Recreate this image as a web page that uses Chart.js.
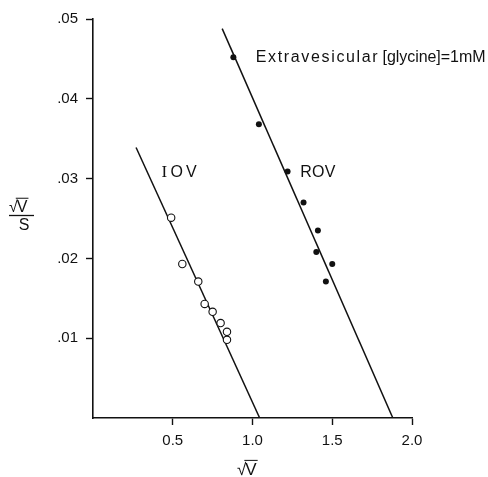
<!DOCTYPE html>
<html>
<head>
<meta charset="utf-8">
<script src="https://cdn.jsdelivr.net/npm/chart.js@4.4.1/dist/chart.umd.min.js"></script>
<style>
  html, body { margin: 0; padding: 0; background: #fff; }
  #wrap { width: 488px; height: 477px; position: relative; }
</style>
</head>
<body>
<div id="wrap"><canvas id="chart"></canvas></div>
<script>
// sqrt(V)/S vs sqrt(V), inside-out (IOV) and right-side-out (ROV) vesicles
const IOV_X = [0.49, 0.56, 0.66, 0.70, 0.75, 0.80, 0.84, 0.84];
const IOV_Y = [0.0251, 0.0193, 0.0171, 0.0143, 0.0133, 0.0119, 0.0108, 0.0098];
const ROV_X = [0.88, 1.04, 1.22, 1.32, 1.41, 1.40, 1.50, 1.46];
const ROV_Y = [0.0452, 0.0368, 0.0309, 0.0270, 0.0235, 0.0208, 0.0193, 0.0171];

// fitted lines, end points
const IOV_FIT_X = [0.27, 1.045];
const IOV_FIT_Y = [0.0339, 0];
const ROV_FIT_X = [0.81, 1.88];
const ROV_FIT_Y = [0.0488, 0];

const X_TICKS = [0.5, 1.0, 1.5, 2.0];
const Y_TICKS = [0.01, 0.02, 0.03, 0.04, 0.05];

const pts = (xs, ys) => xs.map((x, i) => ({ x: x, y: ys[i] }));

const INK = '#111';
const FONT = "'Liberation Sans', Arial, sans-serif";

function spaced(ctx, txt, x, y, w) {
    ctx.letterSpacing = '0px';
    const m = ctx.measureText(txt).width;
    const ls = (w - m) / Math.max(1, txt.length - 1);
    ctx.letterSpacing = ls + 'px';
    ctx.fillText(txt, x, y);
    ctx.letterSpacing = '0px';
}

function rootV(ctx, x, y, size) {
    // "√V" with an overbar, x = left, y = baseline
    ctx.font = size + 'px ' + FONT;
    ctx.textAlign = 'left';
    ctx.textBaseline = 'alphabetic';
    const wr = ctx.measureText('√').width;
    ctx.fillText('√', x, y);
    ctx.fillText('V', x + wr - 1, y);
    const wv = ctx.measureText('V').width;
    ctx.beginPath();
    ctx.lineWidth = 1;
    ctx.moveTo(x + wr - 2, y - size * 0.86);
    ctx.lineTo(x + wr + wv, y - size * 0.86);
    ctx.stroke();
}

const labels = {
    id: 'labels',
    afterDraw(chart) {
        const ctx = chart.ctx;
        const xs = chart.scales.x, ys = chart.scales.y;
        ctx.save();
        ctx.fillStyle = INK;
        ctx.strokeStyle = INK;
        ctx.textBaseline = 'alphabetic';
        ctx.textAlign = 'left';

        ctx.font = '16px ' + FONT;
        spaced(ctx, 'Extravesicular', xs.getPixelForValue(1.02), ys.getPixelForValue(0.0446), 122);
        spaced(ctx, '[glycine]=1mM', xs.getPixelForValue(1.815), ys.getPixelForValue(0.0446), 103);
        spaced(ctx, 'ROV', xs.getPixelForValue(1.30), ys.getPixelForValue(0.0302), 35);
        const ix = xs.getPixelForValue(0.43), iy = ys.getPixelForValue(0.0302);
        ctx.font = '17px "Liberation Serif", serif';
        ctx.fillText('I', ix, iy);
        ctx.font = '16px ' + FONT;
        spaced(ctx, 'OV', ix + 9, iy, 26);

        // y axis title: sqrt(V) over S
        rootV(ctx, 9, 212, 16);
        ctx.beginPath();
        ctx.lineWidth = 1.3;
        ctx.moveTo(9, 215.5);
        ctx.lineTo(34, 215.5);
        ctx.stroke();
        ctx.font = '16px ' + FONT;
        ctx.textAlign = 'center';
        ctx.fillText('S', 24, 230);

        // x axis title
        rootV(ctx, 237, 475, 17);
        ctx.restore();
    }
};

const tickCol = c => (c.tick && c.tick.value === 0) ? 'rgba(0,0,0,0)' : INK;

new Chart(document.getElementById('chart'), {
    type: 'scatter',
    data: {
        datasets: [
            { label: 'IOV fit', data: pts(IOV_FIT_X, IOV_FIT_Y), showLine: true, borderColor: INK, borderWidth: 1.5, pointRadius: 0, order: 2 },
            { label: 'ROV fit', data: pts(ROV_FIT_X, ROV_FIT_Y), showLine: true, borderColor: INK, borderWidth: 1.5, pointRadius: 0, order: 2 },
            { label: 'IOV', data: pts(IOV_X, IOV_Y), pointStyle: 'circle', pointRadius: 3.7, borderWidth: 1.1, borderColor: INK, backgroundColor: '#fff', order: 1 },
            { label: 'ROV', data: pts(ROV_X, ROV_Y), pointStyle: 'circle', pointRadius: 3, borderWidth: 0, backgroundColor: INK, order: 1 }
        ]
    },
    options: {
        responsive: true,
        maintainAspectRatio: false,
        animation: false,
        layout: { padding: { left: 0, top: 19, right: 76, bottom: 0 } },
        plugins: { legend: { display: false }, tooltip: { enabled: false } },
        scales: {
            x: {
                type: 'linear', min: 0, max: 2,
                afterFit: s => { s.height = 59; },
                afterBuildTicks: s => { s.ticks = [0].concat(X_TICKS).map(v => ({ value: v })); },
                border: { display: true, color: INK, width: 1.6 },
                grid: { drawOnChartArea: false, drawTicks: true, tickLength: 7, color: tickCol, tickWidth: 1.4 },
                ticks: { color: INK, padding: 7, font: { family: FONT, size: 15 }, callback: v => v === 0 ? '' : v.toFixed(1) }
            },
            y: {
                type: 'linear', min: 0, max: 0.05,
                afterFit: s => { s.width = 93; },
                afterBuildTicks: s => { s.ticks = [0].concat(Y_TICKS).map(v => ({ value: v })); },
                border: { display: true, color: INK, width: 1.6 },
                grid: { drawOnChartArea: false, drawTicks: true, tickLength: 7, color: tickCol, tickWidth: 1.4 },
                ticks: { color: INK, padding: 8, font: { family: FONT, size: 15 }, callback: v => v === 0 ? '' : v.toFixed(2).replace(/^0/, '') }
            }
        }
    },
    plugins: [labels]
});
</script>
</body>
</html>
